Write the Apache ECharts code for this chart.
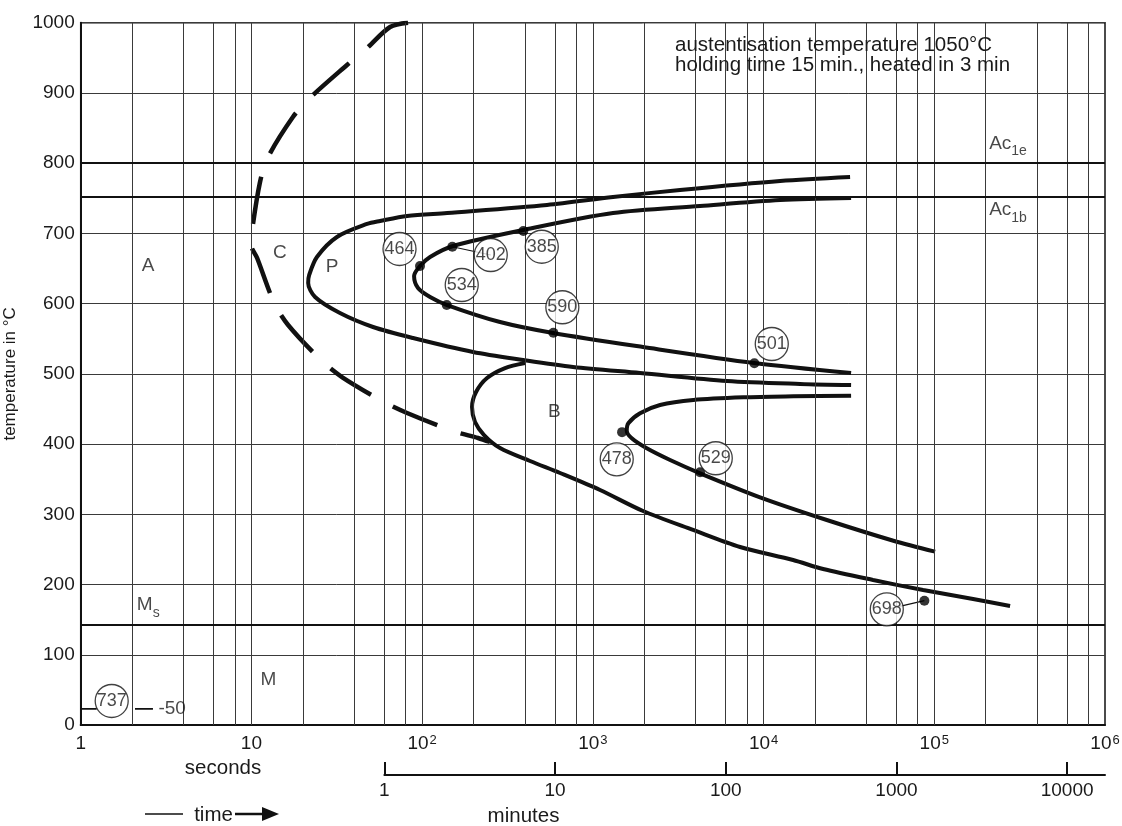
<!DOCTYPE html>
<html>
<head>
<meta charset="utf-8">
<script src="https://cdn.jsdelivr.net/npm/echarts@6/dist/echarts.min.js"></script>
<style>
html,body{margin:0;padding:0;background:#fff;}
#chart{width:1122px;height:826px;}
</style>
</head>
<body>
<div id="chart"></div>
<script>
// Isothermal transformation diagram: time in seconds (log), temperature in °C
const tempTicks = [0, 100, 200, 300, 400, 500, 600, 700, 800, 900, 1000];
const secondDecades = [1, 10, 100, 1000, 10000, 100000, 1000000];
const minuteTicks = [1, 10, 100, 1000, 10000];
const timeGrid = [2, 4, 6, 8, 10, 20, 40, 60, 80, 100, 200, 400, 600, 800, 1000, 2000, 4000, 6000, 8000,
  10000, 20000, 40000, 60000, 80000, 100000, 200000, 400000, 600000, 800000];

// Critical temperatures
const criticalNames = ['Ac1e', 'Ac1b', 'Ms'];
const criticalTemps = [800, 752, 143];

// Transformation lines [seconds, °C]
const pearliteStart = [[32120,780.3],[12497,774.6],[3243,761.8],[1313,751.8],[539,740.4],[140,729],
  [81.6,724.8],[56.7,717.6],[47.6,713.4],[31.7,694.9],[24.2,666.4],[21.8,640.8],[21.5,629.4],
  [23.6,609.4],[33.0,586.6],[51.6,566.7],[88.4,551],[198.7,531.1],[390,519.7],[765.6,509.8],
  [1890,501.2],[6112,489.8],[16360,485.6],[32560,484.1]];
const pearliteFinish = [[32560,750.4],[12497,747.5],[4247,739],[1313,729],[390,704.8],[151.7,682],
  [111.3,666.4],[97.2,653.6],[89.7,639.3],[94.6,622.2],[111.3,609.4],[140,598],[286,573.8],
  [584.9,558.2],[1968,538.2],[8799,515.5],[32560,501.2]];
const bainiteStart = [[400.6,515.5],[306,508.3],[240,494.1],[206.9,474.2],[196,452.8],[204.1,431.4],
  [230.5,412.9],[286,394.4],[428.7,375.9],[642.6,358.8],[1102,334.6],[1968,304.7],[3864,277.7],
  [7284,253.5],[14890,234.9],[22320,222.1],[43800,206.5],[86000,192.2],[168800,179.4],[278000,169.4]];
const bainiteFinish = [[32560,468.9],[14950,468],[7615,466.6],[3880,462.8],[2475,455.6],[1890,443.8],
  [1614,429.6],[1580,419],[1690,408.2],[2069,394],[2834,377.3],[4247,358.4],[9539,324.2],
  [23460,291.9],[57600,262.4],[101100,246.8]];
const carbideLimit = [[82.7,1000],[64.9,993.9],[47.6,964],[36.3,939.8],[22.0,892.8],[17.5,865.7],
  [12.35,806],[11.2,771.8],[10.1,704.8],[9.97,683.5],[10.8,665],[13.6,600.9],[16.4,569.6],
  [25.9,518.3],[33.9,495.5],[59.8,459.9],[81.6,444.3],[151.7,418.6],[212.6,408.7],[250,403]];

// Hardness (HV) measured after transformation
const hardnessValues = [385, 402, 464, 534, 590, 501, 478, 529, 698];
const hardnessDots = [[391.6,703.4],[150.3,681],[97.2,653.6],[139.4,598],[587,558.6],[8831,515],
  [1483,417],[4247,359.8],[87500,177]];
const hardnessTags = [[502,681],[252.3,669.2],[73.7,677.8],[170.6,626.5],[662.7,594.8],[11170,542.5],
  [1380,378.3],[5248,379.8],[52700,164.7]];
const leaderLines = [1, 8]; // dots joined to their circled value by a thin line

// Martensite after quenching to -50 °C
const quenchValue = 737;
const quenchTag = [1.519, 34.2];
const quenchSolid = [[1, 23], [1.24, 23]];
const quenchDash = [[2.08, 23], [2.65, 23]];
const quenchText = [2.85, 23];

// Phase field letters
const phaseNames = ['A', 'C', 'P', 'B', 'M'];
const phasePos = [[2.48,653.6],[14.7,672],[29.7,652],[595,445.7],[12.56,64]];
const criticalLabelPos = [[209400,828.3],[209400,733.3],[2.13,170.9]];

// Note box (spans these times/temperatures)
const noteBox = [[1950, 901.5], [550000, 998.5]];
const noteLines = ['austentisation temperature 1050°C', 'holding time 15 min., heated in 3 min'];

const FONT = '"Liberation Sans", Arial, sans-serif';
const INK = '#111';
const TXT = '#1a1a1a';
const plainLabel = { color: TXT, fontFamily: FONT, textBorderWidth: 0, textBorderColor: 'transparent', textShadowBlur: 0 };

const chart = echarts.init(document.getElementById('chart'), null, { renderer: 'canvas' });

function curve(name, data, extra) {
  return Object.assign({
    name, type: 'line', data, xAxisIndex: 0, yAxisIndex: 0,
    showSymbol: false, symbol: 'none', smooth: 0.3, silent: true, z: 3,
    lineStyle: { color: INK, width: 4, cap: 'butt' }
  }, extra || {});
}

const supDigits = v => {
  const e = Math.round(Math.log10(v));
  if (e === 0) return '1';
  if (e === 1) return '10';
  return '10{sup|' + e + '}';
};

const subRich = {
  b: Object.assign({ fontSize: 19, lineHeight: 22 }, plainLabel),
  s: Object.assign({ fontSize: 14, lineHeight: 14, padding: [16, 0, 0, 0] }, plainLabel)
};
const criticalLabelText = ['{b|Ac}{s|1e}', '{b|Ac}{s|1b}', '{b|M}{s|s}'];

const option = {
  animation: false,
  backgroundColor: '#fff',
  textStyle: { fontFamily: FONT },
  grid: [
    { left: 80.7, right: 17, top: 22.7, bottom: 101, containLabel: false, outerBoundsMode: 'none',
      show: true, borderColor: INK, borderWidth: 1.5, backgroundColor: 'transparent' },
    { left: 384.4, right: 17, top: 700, bottom: 51, containLabel: false, outerBoundsMode: 'none' }
  ],
  xAxis: [
    {
      type: 'log', logBase: 10, min: secondDecades[0], max: secondDecades[secondDecades.length - 1],
      gridIndex: 0,
      axisLine: { show: true, onZero: false, lineStyle: { color: INK, width: 2 } },
      axisTick: { show: false },
      splitLine: { show: false },
      axisLabel: {
        fontSize: 19, color: TXT, margin: 9, fontFamily: FONT,
        formatter: supDigits,
        rich: { sup: { fontSize: 13, verticalAlign: 'top', fontFamily: FONT, color: TXT, padding: [0, 0, 0, 1] } }
      }
    },
    {
      type: 'value', gridIndex: 1, min: 0, max: Math.log10(1e6 / 60),
      axisLine: { show: true, onZero: false, lineStyle: { color: INK, width: 2 } },
      axisTick: { show: true, inside: true, length: 13, lineStyle: { color: INK, width: 2 },
        customValues: minuteTicks.map(v => Math.log10(v)) },
      splitLine: { show: false },
      axisLabel: { fontSize: 19, color: TXT, margin: 6, fontFamily: FONT,
        customValues: minuteTicks.map(v => Math.log10(v)),
        formatter: v => String(Math.round(Math.pow(10, v))) }
    }
  ],
  yAxis: [
    {
      type: 'value', min: tempTicks[0], max: tempTicks[tempTicks.length - 1], interval: 100, gridIndex: 0,
      name: 'temperature in °C', nameLocation: 'middle', nameGap: 62,
      nameTextStyle: { fontSize: 17, color: TXT, fontFamily: FONT },
      axisLine: { show: true, lineStyle: { color: INK, width: 2 } },
      axisTick: { show: false },
      splitLine: { show: true, lineStyle: { color: '#3a3a3a', width: 1 } },
      axisLabel: { fontSize: 19, color: TXT, margin: 6, fontFamily: FONT, formatter: v => String(v) }
    },
    { type: 'value', gridIndex: 1, show: false, min: 0, max: 1 }
  ],
  series: [
    // vertical grid lines at 2, 4, 6, 8 and 10 of each decade, plus critical temperatures
    {
      name: 'grid', type: 'line', data: [], xAxisIndex: 0, yAxisIndex: 0, silent: true, z: 1,
      markLine: {
        silent: true, symbol: 'none', animation: false, label: { show: false },
        lineStyle: { color: '#3a3a3a', width: 1, type: 'solid' },
        data: timeGrid.map(v => ({ xAxis: v }))
      }
    },
    {
      name: 'critical', type: 'line', data: [], xAxisIndex: 0, yAxisIndex: 0, silent: true, z: 2,
      markLine: {
        silent: true, symbol: 'none', animation: false, label: { show: false },
        lineStyle: { color: INK, width: 2.2, type: 'solid' },
        data: criticalTemps.map(v => ({ yAxis: v }))
      }
    },
    {
      name: 'note', type: 'line', data: [], xAxisIndex: 0, yAxisIndex: 0, silent: true, z: 2,
      markArea: {
        silent: true, itemStyle: { color: '#fff', opacity: 1 }, label: { show: false },
        data: [[{ coord: noteBox[0] }, { coord: noteBox[1] }]]
      }
    },
    curve('pearlite start', pearliteStart),
    curve('pearlite finish', pearliteFinish),
    curve('bainite start', bainiteStart),
    curve('bainite finish', bainiteFinish),
    curve('carbide', carbideLimit, { lineStyle: { color: INK, width: 4.5, type: [48, 25], cap: 'butt' } }),
    // leader lines from dots to hardness circles
    ...leaderLines.map(i => ({
      type: 'line', data: [hardnessDots[i], hardnessTags[i]], showSymbol: false, symbol: 'none', silent: true, z: 4,
      lineStyle: { color: INK, width: 1.2 }
    })),
    {
      type: 'line', data: quenchSolid, showSymbol: false, symbol: 'none', silent: true, z: 4,
      lineStyle: { color: INK, width: 1.6 }
    },
    {
      type: 'line', data: quenchDash, showSymbol: false, symbol: 'none', silent: true, z: 4,
      lineStyle: { color: INK, width: 1.6 }
    },
    {
      name: 'dots', type: 'scatter', data: hardnessDots, symbol: 'circle', symbolSize: 10, silent: true, z: 5,
      itemStyle: { color: '#000' }
    },
    {
      name: 'hardness', type: 'scatter', silent: true, z: 6,
      data: hardnessTags.map((p, i) => ({ value: p, name: String(hardnessValues[i]) }))
        .concat([{ value: quenchTag, name: String(quenchValue) }]),
      symbol: 'circle', symbolSize: 33,
      itemStyle: { color: '#fff', borderColor: INK, borderWidth: 1.3 },
      label: Object.assign({ show: true, position: 'inside', formatter: '{b}', fontSize: 18 }, plainLabel)
    },
    {
      name: 'phases', type: 'scatter', silent: true, z: 6, symbolSize: 0.1,
      itemStyle: { color: 'transparent' },
      data: phasePos.map((p, i) => ({ value: p, name: phaseNames[i] })),
      label: Object.assign({ show: true, position: 'inside', formatter: '{b}', fontSize: 19 }, plainLabel)
    },
    {
      name: 'critical labels', type: 'scatter', silent: true, z: 6, symbolSize: 0.1,
      itemStyle: { color: 'transparent' },
      data: criticalLabelPos.map((p, i) => ({ value: p, name: criticalLabelText[i] })),
      label: Object.assign({ show: true, position: 'right', distance: 0, formatter: '{b}', rich: subRich }, plainLabel)
    },
    {
      name: 'quench', type: 'scatter', silent: true, z: 6, symbolSize: 0.1,
      itemStyle: { color: 'transparent' },
      data: [{ value: quenchText, name: '-50' }],
      label: Object.assign({ show: true, position: 'right', distance: 0, formatter: '{b}', fontSize: 19 }, plainLabel)
    }
  ],
  graphic: [
    { type: 'text', left: 675, top: 35, silent: true, z: 10,
      style: { text: noteLines[0], font: '20.5px ' + FONT, fill: TXT } },
    { type: 'text', left: 675, top: 55, silent: true, z: 10,
      style: { text: noteLines[1], font: '20.5px ' + FONT, fill: TXT } },
    { type: 'text', x: 223, y: 768, silent: true,
      style: { text: 'seconds', font: '20.5px ' + FONT, fill: TXT, align: 'center', verticalAlign: 'middle' } },
    { type: 'text', x: 523.5, y: 816, silent: true,
      style: { text: 'minutes', font: '20.5px ' + FONT, fill: TXT, align: 'center', verticalAlign: 'middle' } },
    { type: 'text', x: 213.5, y: 815, silent: true,
      style: { text: 'time', font: '20.5px ' + FONT, fill: TXT, align: 'center', verticalAlign: 'middle' } },
    { type: 'line', silent: true, shape: { x1: 145, y1: 814, x2: 183, y2: 814 }, style: { stroke: INK, lineWidth: 1.5 } },
    { type: 'line', silent: true, shape: { x1: 235, y1: 814, x2: 265, y2: 814 }, style: { stroke: INK, lineWidth: 2.5 } },
    { type: 'polygon', silent: true, shape: { points: [[262, 807], [279, 814], [262, 821]] }, style: { fill: INK } }
  ]
};

chart.setOption(option);
</script>
</body>
</html>
